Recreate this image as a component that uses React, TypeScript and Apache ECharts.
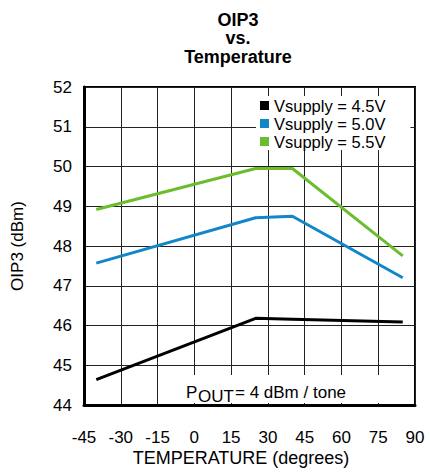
import React, { useEffect, useRef } from "react";
import * as echarts from "echarts";

const temps = [-40, 25, 40, 85];
const oip3At45 = [44.64, 46.18, 46.16, 46.09];
const oip3At50 = [47.57, 48.71, 48.75, 47.2];
const oip3At55 = [48.92, 49.95, 49.95, 47.75];
const seriesNames = ["Vsupply = 4.5V", "Vsupply = 5.0V", "Vsupply = 5.5V"];
const seriesColors = ["#000000", "#1187c9", "#6cbd2d"];
const titleLines = ["OIP3", "vs.", "Temperature"];
const xAxisTitle = "TEMPERATURE (degrees)";
const yAxisTitle = "OIP3 (dBm)";

const FONT = "'Liberation Sans', Arial, Helvetica, sans-serif";

export default function App() {
  const ref = useRef<HTMLDivElement>(null);
  useEffect(() => {
    document.body.style.margin = "0";
    if (!ref.current) return;
    const chart = echarts.init(ref.current, undefined, { renderer: "svg" });
    const allSeries = [oip3At45, oip3At50, oip3At55];
    chart.setOption({
      animation: false,
      backgroundColor: "#ffffff",
      textStyle: { fontFamily: FONT },
      grid: {
        left: 84,
        right: 15,
        top: 87,
        bottom: 67,
        show: true,
        borderColor: "#000",
        borderWidth: 2,
        containLabel: false,
      },
      legend: {
        orient: "vertical",
        left: 256,
        top: 96,
        padding: [1, 25, 0, 4],
        backgroundColor: "#ffffff",
        icon: "rect",
        itemWidth: 9,
        itemHeight: 9,
        itemGap: 1,
        data: seriesNames,
        textStyle: { fontSize: 16.5, lineHeight: 16, color: "#000", fontFamily: FONT },
      },
      xAxis: {
        type: "value",
        min: -45,
        max: 90,
        interval: 15,
        axisLine: { show: true, onZero: false, lineStyle: { color: "#000", width: 3 } },
        axisTick: { show: false },
        axisLabel: { fontSize: 17, color: "#000", margin: 24, fontFamily: FONT },
        splitLine: { show: true, lineStyle: { color: "#222", width: 1 } },
      },
      yAxis: {
        type: "value",
        min: 44,
        max: 52,
        interval: 1,
        name: yAxisTitle,
        nameLocation: "middle",
        nameGap: 58,
        nameTextStyle: { fontSize: 17, color: "#000", fontFamily: FONT },
        axisLine: { show: true, onZero: false, lineStyle: { color: "#000", width: 3 } },
        axisTick: { show: false },
        axisLabel: { fontSize: 17, color: "#000", margin: 12, fontFamily: FONT },
        splitLine: { show: true, lineStyle: { color: "#222", width: 1 } },
      },
      series: allSeries.map((vals, i) => ({
        name: seriesNames[i],
        type: "line",
        data: temps.map((t, j) => [t, vals[j]]),
        showSymbol: false,
        symbol: "none",
        lineStyle: { color: seriesColors[i], width: 3 },
        itemStyle: { color: seriesColors[i] },
      })),
      graphic: [
        {
          type: "text",
          x: 238,
          y: 38,
          z: 10,
          style: {
            text: titleLines.join("\n"),
            textAlign: "center",
            textVerticalAlign: "middle",
            lineHeight: 18.5,
            fontSize: 18,
            fontWeight: "bold",
            fontFamily: FONT,
            fill: "#000",
          },
        },
        {
          type: "text",
          x: 241,
          y: 458,
          z: 10,
          style: {
            text: xAxisTitle,
            textAlign: "center",
            textVerticalAlign: "middle",
            fontSize: 18,
            fontFamily: FONT,
            fill: "#000",
          },
        },
        {
          type: "rect",
          z: 5,
          shape: { x: 186, y: 375, width: 227, height: 28 },
          style: { fill: "#ffffff" },
        },
        {
          type: "text",
          x: 186,
          y: 392.5,
          z: 6,
          style: { text: "P", textVerticalAlign: "middle", fontSize: 17, fontFamily: FONT, fill: "#000" },
        },
        {
          type: "text",
          x: 198,
          y: 396.5,
          z: 6,
          style: { text: "OUT", textVerticalAlign: "middle", fontSize: 17, fontFamily: FONT, fill: "#000" },
        },
        {
          type: "text",
          x: 235,
          y: 392.5,
          z: 6,
          style: { text: "= 4 dBm / tone", textVerticalAlign: "middle", fontSize: 17, fontFamily: FONT, fill: "#000" },
        },
      ],
    });
    return () => chart.dispose();
  }, []);
  return <div ref={ref} style={{ width: 430, height: 472 }} />;
}
